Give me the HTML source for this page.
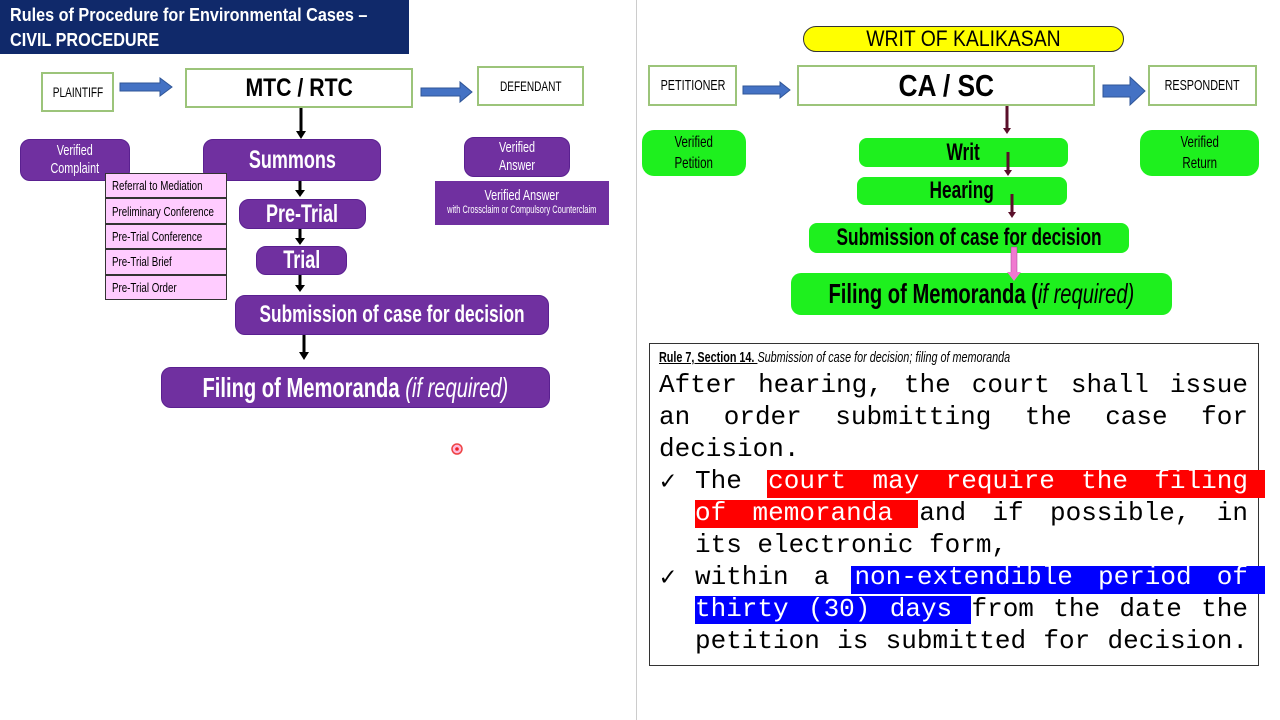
<!DOCTYPE html>
<html><head><meta charset="utf-8"><style>
body{margin:0;width:1280px;height:720px;background:#fff;position:relative;overflow:hidden;font-family:"Liberation Sans",sans-serif}
.a{position:absolute;box-sizing:border-box;display:flex;align-items:center;justify-content:center;text-align:center}
.n{display:inline-block;transform:scaleX(0.72);white-space:nowrap}
.wb{border:2px solid #9cc47a;background:#fff;color:#000}
.p{background:#7030a0;color:#fff;border-radius:10px;border:1px solid #5a2090}
.g{background:#1ef01e;color:#000;border-radius:12px}
.pk{position:absolute;left:105px;width:122px;height:25.4px;box-sizing:border-box;border:1.5px solid #333;background:#ffccff;font-size:13px;display:flex;align-items:center;padding-left:6px}
.ln{position:absolute;left:659px;width:589px;height:32px;display:flex;justify-content:space-between;align-items:center;font-family:"Liberation Mono",monospace;font-size:26px;color:#000;white-space:pre}
.hl{position:absolute}
</style></head><body>
<div style="position:absolute;left:636px;top:0;width:1px;height:720px;background:#ccc"></div>

<div style="position:absolute;left:0;top:0;width:409px;height:54px;background:#10296a;color:#fff;font-weight:bold;font-size:18px;line-height:25px;padding:3px 0 0 10px;box-sizing:border-box"><span class="n" style="transform-origin:left;transform:scaleX(0.9)">Rules of Procedure for Environmental Cases –</span><br><span class="n" style="transform-origin:left;transform:scaleX(0.9)">CIVIL PROCEDURE</span></div>

<svg style="position:absolute;left:0;top:0" width="1280" height="720">
<g fill="#4472c4" stroke="#2f5597" stroke-width="1">
<path d="M120,83 L160,83 L160,78 L172,87 L160,96 L160,91 L120,91z"/>
<path d="M421,88 L460,88 L460,82 L472,92 L460,102 L460,96 L421,96z"/>
<path d="M743,86 L780,86 L780,82 L790,90 L780,98 L780,94 L743,94z"/>
<path d="M1103,85 L1130,85 L1130,77 L1145,91 L1130,105 L1130,97 L1103,97z"/>
</g>
<g stroke="#000" stroke-width="3">
<line x1="301" y1="108" x2="301" y2="133"/><path d="M296,131 L306,131 L301,139z" fill="#000" stroke="none"/>
<line x1="300" y1="181" x2="300" y2="192"/><path d="M295,190 L305,190 L300,197z" fill="#000" stroke="none"/>
<line x1="300" y1="229" x2="300" y2="240"/><path d="M295,238 L305,238 L300,245z" fill="#000" stroke="none"/>
<line x1="300" y1="275" x2="300" y2="287"/><path d="M295,285 L305,285 L300,292z" fill="#000" stroke="none"/>
<line x1="304" y1="335" x2="304" y2="354"/><path d="M299,352 L309,352 L304,360z" fill="#000" stroke="none"/>
</g>
<circle cx="457" cy="449" r="5" fill="#fbd" stroke="#e44" stroke-width="1.5"/><circle cx="457" cy="449" r="1.8" fill="#e22"/>
</svg>

<div class="a wb" style="left:41px;top:72px;width:73px;height:40px;font-size:14px"><span class="n">PLAINTIFF</span></div>
<div class="a wb" style="left:185px;top:68px;width:228px;height:40px;font-size:25px;font-weight:bold"><span class="n" style="transform:scaleX(0.85)">MTC / RTC</span></div>
<div class="a wb" style="left:477px;top:66px;width:107px;height:40px;font-size:14px"><span class="n">DEFENDANT</span></div>

<div class="a p" style="left:20px;top:139px;width:110px;height:42px;font-size:15px;line-height:18px"><span class="n">Verified<br>Complaint</span></div>
<div class="a p" style="left:203px;top:139px;width:178px;height:42px;font-size:25px;font-weight:bold"><span class="n">Summons</span></div>
<div class="a p" style="left:464px;top:137px;width:106px;height:40px;font-size:15px;line-height:18px"><span class="n">Verified<br>Answer</span></div>
<div class="a" style="left:435px;top:181px;width:174px;height:44px;background:#7030a0;color:#fff;flex-direction:column;line-height:15px"><span class="n" style="font-size:15px">Verified Answer</span><span class="n" style="font-size:11px;transform:scaleX(0.68)">with Crossclaim or Compulsory Counterclaim</span></div>

<div class="pk" style="top:173px"><span class="n" style="transform-origin:left;transform:scaleX(0.75)">Referral to Mediation</span></div>
<div class="pk" style="top:198.4px"><span class="n" style="transform-origin:left;transform:scaleX(0.75)">Preliminary Conference</span></div>
<div class="pk" style="top:223.8px"><span class="n" style="transform-origin:left;transform:scaleX(0.75)">Pre-Trial Conference</span></div>
<div class="pk" style="top:249.2px"><span class="n" style="transform-origin:left;transform:scaleX(0.75)">Pre-Trial Brief</span></div>
<div class="pk" style="top:274.6px"><span class="n" style="transform-origin:left;transform:scaleX(0.75)">Pre-Trial Order</span></div>

<div class="a p" style="left:239px;top:199px;width:127px;height:30px;font-size:25px;font-weight:bold"><span class="n">Pre-Trial</span></div>
<div class="a p" style="left:256px;top:246px;width:91px;height:29px;font-size:25px;font-weight:bold"><span class="n">Trial</span></div>
<div class="a p" style="left:235px;top:295px;width:314px;height:40px;font-size:24px;font-weight:bold"><span class="n">Submission of case for decision</span></div>
<div class="a p" style="left:161px;top:367px;width:389px;height:41px;font-size:28px;font-weight:bold"><span class="n">Filing of Memoranda <span style="font-weight:normal;font-style:italic">(if required)</span></span></div>

<!-- right -->
<div class="a" style="left:803px;top:26px;width:321px;height:26px;background:#ffff00;border:1.5px solid #333;border-radius:13px;font-size:22px"><span class="n" style="transform:scaleX(0.88)">WRIT OF KALIKASAN</span></div>
<div class="a wb" style="left:648px;top:65px;width:89px;height:41px;font-size:15px"><span class="n">PETITIONER</span></div>
<div class="a wb" style="left:797px;top:65px;width:298px;height:41px;font-size:31px;font-weight:bold"><span class="n" style="transform:scaleX(0.85)">CA / SC</span></div>
<div class="a wb" style="left:1148px;top:65px;width:109px;height:41px;font-size:15px"><span class="n">RESPONDENT</span></div>

<div class="a g" style="left:642px;top:130px;width:104px;height:46px;font-size:16px;line-height:21px"><span class="n">Verified<br>Petition</span></div>
<div class="a g" style="left:1140px;top:130px;width:119px;height:46px;font-size:16px;line-height:21px"><span class="n">Verified<br>Return</span></div>
<div class="a g" style="left:859px;top:138px;width:209px;height:29px;border-radius:8px;font-size:24px;font-weight:bold"><span class="n">Writ</span></div>
<div class="a g" style="left:857px;top:177px;width:210px;height:28px;border-radius:8px;font-size:24px;font-weight:bold"><span class="n">Hearing</span></div>
<div class="a g" style="left:809px;top:223px;width:320px;height:30px;border-radius:8px;font-size:24px;font-weight:bold"><span class="n">Submission of case for decision</span></div>
<div class="a g" style="left:791px;top:273px;width:381px;height:42px;border-radius:10px;font-size:28px;font-weight:bold"><span class="n">Filing of Memoranda (<span style="font-style:italic;font-weight:normal">if required)</span></span></div>

<svg style="position:absolute;left:0;top:0" width="1280" height="720">
<g stroke="#5a0f2a" stroke-width="3">
<line x1="1007" y1="106" x2="1007" y2="130"/><path d="M1003,128 L1011,128 L1007,134z" fill="#5a0f2a" stroke="none"/>
<line x1="1008" y1="152" x2="1008" y2="172"/><path d="M1004,170 L1012,170 L1008,176z" fill="#5a0f2a" stroke="none"/>
<line x1="1012" y1="194" x2="1012" y2="214"/><path d="M1008,212 L1016,212 L1012,218z" fill="#5a0f2a" stroke="none"/>
</g>
<rect x="1011" y="247" width="6" height="26" fill="#f07ad0" stroke="#a04090" stroke-width="0.5"/>
<path d="M1007,272 L1021,272 L1014,281z" fill="#f07ad0"/>
</svg>

<!-- text box -->
<div style="position:absolute;left:649px;top:343px;width:610px;height:323px;border:1.5px solid #333;box-sizing:border-box"></div>
<div style="position:absolute;left:659px;top:349px;font-size:15px;white-space:nowrap"><span class="n" style="transform-origin:left;transform:scaleX(0.72)"><b style="text-decoration:underline">Rule 7, Section 14. </b><i>Submission of case for decision; filing of memoranda</i></span></div>

<div class="hl" style="left:767px;top:470px;width:498px;height:28px;background:#f00"></div>
<div class="hl" style="left:695px;top:500px;width:223px;height:28px;background:#f00"></div>
<div class="hl" style="left:851px;top:566px;width:414px;height:28px;background:#00f"></div>
<div class="hl" style="left:695px;top:596px;width:276px;height:28px;background:#00f"></div>

<div class="ln" style="top:369px"><span>After</span><span>hearing,</span><span>the</span><span>court</span><span>shall</span><span>issue</span></div>
<div class="ln" style="top:401px"><span>an</span><span>order</span><span>submitting</span><span>the</span><span>case</span><span>for</span></div>
<div class="ln" style="top:433px"><span>decision.</span></div>
<div class="ln" style="top:465px;left:660px;width:30px">✓</div>
<div class="ln" style="top:465px;left:695px;width:553px"><span>The</span><span style="color:#fff">court</span><span style="color:#fff">may</span><span style="color:#fff">require</span><span style="color:#fff">the</span><span style="color:#fff">filing</span></div>
<div class="ln" style="top:497px;left:695px;width:553px"><span style="color:#fff">of</span><span style="color:#fff">memoranda</span><span>and</span><span>if</span><span>possible,</span><span>in</span></div>
<div class="ln" style="top:529px;left:695px;width:553px;justify-content:flex-start"><span>its electronic form,</span></div>
<div class="ln" style="top:561px;left:660px;width:30px">✓</div>
<div class="ln" style="top:561px;left:695px;width:553px"><span>within</span><span>a</span><span style="color:#fff">non-extendible</span><span style="color:#fff">period</span><span style="color:#fff">of</span></div>
<div class="ln" style="top:593px;left:695px;width:553px"><span style="color:#fff">thirty</span><span style="color:#fff">(30)</span><span style="color:#fff">days</span><span>from</span><span>the</span><span>date</span><span>the</span></div>
<div class="ln" style="top:625px;left:695px;width:553px"><span>petition</span><span>is</span><span>submitted</span><span>for</span><span>decision.</span></div>
</body></html>
